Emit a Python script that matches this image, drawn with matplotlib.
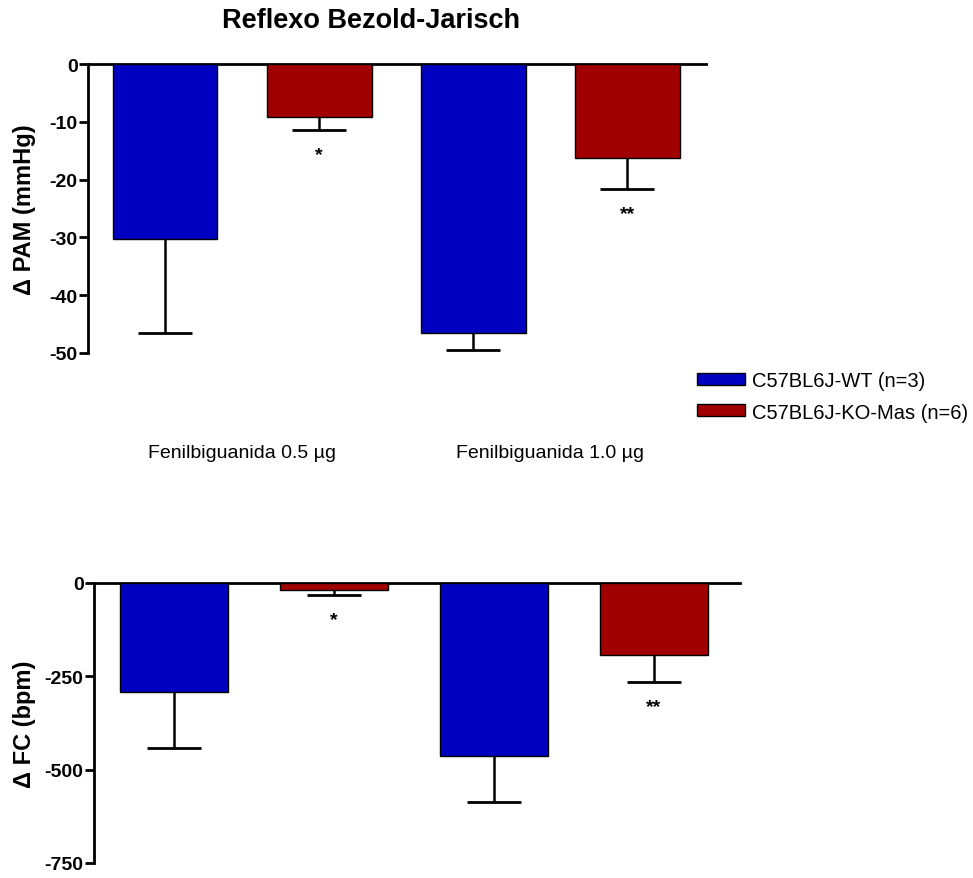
import numpy as np
import matplotlib.pyplot as plt
from matplotlib.patches import Patch
from matplotlib.transforms import blended_transform_factory

plt.rcParams['font.family'] = ['Liberation Sans', 'DejaVu Sans']
plt.rcParams['axes.unicode_minus'] = False

# data
groups = ["Fenilbiguanida 0.5 µg", "Fenilbiguanida 1.0 µg"]
series = ["C57BL6J-WT (n=3)", "C57BL6J-KO-Mas (n=6)"]
colors = ["#0000C0", "#A00000"]

pam_wt = [-30.3, -46.5]
pam_wt_err = [16.2, 3.0]
pam_ko = [-9.2, -16.3]
pam_ko_err = [2.2, 5.3]
pam_stars = ["*", "**"]

fc_wt = [-292, -463]
fc_wt_err = [150, 124]
fc_ko = [-19, -193]
fc_ko_err = [13, 72]
fc_stars = ["*", "**"]

fig = plt.figure(figsize=(9.73, 8.79), dpi=100)


def draw_panel(ax, wt, wt_err, ko, ko_err, stars, width, yticks):
    # bars are ordered wt, ko, wt, ko
    vals = np.array([wt[0], ko[0], wt[1], ko[1]], dtype=float)
    errs = np.array([wt_err[0], ko_err[0], wt_err[1], ko_err[1]], dtype=float)
    cols = [colors[0], colors[1], colors[0], colors[1]]
    x = np.arange(len(vals))
    ax.bar(x, vals, width=width, color=cols, edgecolor='black', linewidth=1.0, zorder=3)
    # one-sided error bars (downwards only)
    ax.vlines(x, vals, vals - errs, color='black', linewidth=1.8, zorder=2)
    ax.plot(x, vals - errs, linestyle='none', marker='_', markersize=39,
            markeredgewidth=2.0, color='black', zorder=2)
    # significance marks under the KO bars
    for i, s in zip([1, 3], stars):
        ax.annotate(s, (x[i], vals[i] - errs[i]), xytext=(0, -18), textcoords='offset points',
                    ha='center', va='center', fontsize=14, fontweight='bold')
    ax.spines['bottom'].set_visible(False)
    ax.spines['right'].set_visible(False)
    ax.spines['top'].set_linewidth(2)
    ax.spines['left'].set_linewidth(2)
    ax.tick_params(axis='x', length=0, labelbottom=False)
    ax.set_yticks(yticks)
    ax.set_ylim(min(yticks), 0)
    ax.tick_params(axis='y', length=6.5, width=2, labelsize=14, pad=1)
    for lab in ax.get_yticklabels():
        lab.set_fontweight('bold')
    return x


# top panel: blood pressure
ax1 = fig.add_axes([88 / 973, 1 - 354 / 879, 618 / 973, 289 / 879])
draw_panel(ax1, pam_wt, pam_wt_err, pam_ko, pam_ko_err, pam_stars, 0.68,
           [0, -10, -20, -30, -40, -50])
ax1.set_xlim(-0.5, 3.51)
ax1.set_ylabel("Δ PAM (mmHg)", fontsize=17, fontweight='bold')
ax1.yaxis.set_label_coords(-0.084, 0.5)
fig.text(371 / 973, 1 - 21 / 879, "Reflexo Bezold-Jarisch", ha='center', va='center',
         fontsize=19.5, fontweight='bold')

trans = blended_transform_factory(ax1.transData, ax1.transAxes)
for gx, g in zip([0.5, 2.5], groups):
    ax1.text(gx, -0.36, g, transform=trans, ha='center', va='baseline', fontsize=14)

# bottom panel: heart rate
ax2 = fig.add_axes([94 / 973, 1 - 864 / 879, 646 / 973, 280 / 879])
draw_panel(ax2, fc_wt, fc_wt_err, fc_ko, fc_ko_err, fc_stars, 0.675,
           [0, -250, -500, -750])
ax2.set_xlim(-0.5, 3.54)
ax2.set_ylabel("Δ FC (bpm)", fontsize=17, fontweight='bold')
ax2.yaxis.set_label_coords(-0.09, 0.5)

handles = [Patch(facecolor=c, edgecolor='black', linewidth=1.0) for c in colors]
fig.legend(handles, series, loc='center left', bbox_to_anchor=(697 / 973, 1 - 397.5 / 879),
           frameon=False, fontsize=14.5, handlelength=2.4, handleheight=0.55,
           handletextpad=0.35, labelspacing=0.6, borderpad=0, borderaxespad=0)

fig.savefig("out.png", dpi=100)
